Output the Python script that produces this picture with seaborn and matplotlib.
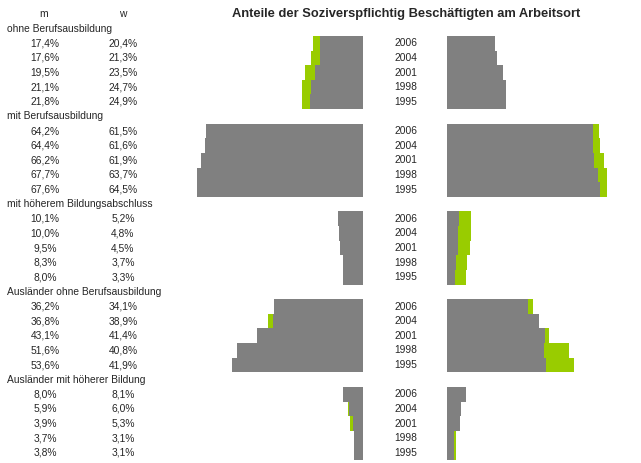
import matplotlib
matplotlib.use("Agg")
import matplotlib.pyplot as plt
import seaborn as sns
import pandas as pd

# ---------------- data ----------------
groups = ["ohne Berufsausbildung", "mit Berufsausbildung",
          "mit höherem Bildungsabschluss", "Ausländer ohne Berufsausbildung",
          "Ausländer mit höherer Bildung"]
years = ["2006", "2004", "2001", "1998", "1995"]

m_ohne = [17.4, 17.6, 19.5, 21.1, 21.8]
w_ohne = [20.4, 21.3, 23.5, 24.7, 24.9]
m_mit = [64.2, 64.4, 66.2, 67.7, 67.6]
w_mit = [61.5, 61.6, 61.9, 63.7, 64.5]
m_hoch = [10.1, 10.0, 9.5, 8.3, 8.0]
w_hoch = [5.2, 4.8, 4.5, 3.7, 3.3]
m_ausl_ohne = [36.2, 36.8, 43.1, 51.6, 53.6]
w_ausl_ohne = [34.1, 38.9, 41.4, 40.8, 41.9]
m_ausl_hoch = [8.0, 5.9, 3.9, 3.7, 3.8]
w_ausl_hoch = [8.1, 6.0, 5.3, 3.1, 3.1]

m_all = [m_ohne, m_mit, m_hoch, m_ausl_ohne, m_ausl_hoch]
w_all = [w_ohne, w_mit, w_hoch, w_ausl_ohne, w_ausl_hoch]

title = "Anteile der Soziverspflichtig Beschäftigten am Arbeitsort"

rows = []
for gi, g in enumerate(groups):
    for k, y in enumerate(years):
        rows.append({"group": g, "year": y, "row": 2 + 6 * gi + k,
                     "m": m_all[gi][k], "w": w_all[gi][k]})
df = pd.DataFrame(rows)

# ---------------- style ----------------
sns.set_style("white")
plt.rcParams["font.family"] = ["Liberation Sans", "DejaVu Sans"]

GREY = "#808080"
GREEN = "#99CC00"
W, H = 641, 464
fig = plt.figure(figsize=(W / 100, H / 100), dpi=100)

row_h = 14.625
row0 = 15.05
ylim = ((H - row0) / row_h, -row0 / row_h)
base_off = 2.0 / row_h  # baseline offset below row centre

def fx(px):
    return px / W

# left bars (m in grey, w behind in green)
zero_l, scale_l = 363, 2.45
left_px = 150
axL = fig.add_axes([fx(left_px), 0, fx(zero_l - left_px), 1])
sns.barplot(data=df, x="w", y="row", orient="h", native_scale=True,
            color=GREEN, saturation=1, width=1, linewidth=0,
            errorbar=None, ax=axL)
sns.barplot(data=df, x="m", y="row", orient="h", native_scale=True,
            color=GREY, saturation=1, width=1, linewidth=0,
            errorbar=None, ax=axL)
axL.set_xlim((zero_l - left_px) / scale_l, 0)
axL.set_ylim(*ylim)
axL.axis("off")

# right bars (w in grey, m behind in green)
zero_r, scale_r = 447, 2.37
axR = fig.add_axes([fx(zero_r), 0, fx(W - zero_r), 1])
sns.barplot(data=df, x="m", y="row", orient="h", native_scale=True,
            color=GREEN, saturation=1, width=1, linewidth=0,
            errorbar=None, ax=axR)
sns.barplot(data=df, x="w", y="row", orient="h", native_scale=True,
            color=GREY, saturation=1, width=1, linewidth=0,
            errorbar=None, ax=axR)
axR.set_xlim(0, (W - zero_r) / scale_r)
axR.set_ylim(*ylim)
axR.axis("off")

# left text columns (clipped at x=161 px)
clip_px = 161
axT = fig.add_axes([0, 0, fx(clip_px), 1])
axT.set_xlim(0, clip_px)
axT.set_ylim(*ylim)
axT.axis("off")
fs = 7.4
fmt = lambda v: f"{v:.1f}".replace(".", ",") + "%"
axT.text(44, 0 + base_off, "m", ha="center", va="baseline", fontsize=fs)
axT.text(123, 0 + base_off, "w", ha="center", va="baseline", fontsize=fs)
for gi, g in enumerate(groups):
    axT.text(7, 1 + 6 * gi + base_off, g, ha="left", va="baseline",
             fontsize=fs, clip_on=True)
for _, r in df.iterrows():
    axT.text(45, r["row"] + base_off, fmt(r["m"]), ha="center",
             va="baseline", fontsize=fs)
    axT.text(123, r["row"] + base_off, fmt(r["w"]), ha="center",
             va="baseline", fontsize=fs)

# year labels and title
axY = fig.add_axes([0, 0, 1, 1])
axY.set_xlim(0, W)
axY.set_ylim(*ylim)
axY.axis("off")
for _, r in df.iterrows():
    axY.text(406, r["row"] + base_off, r["year"], ha="center",
             va="baseline", fontsize=fs)
axY.text(406.5, (16.7 - row0) / row_h, title, ha="center", va="baseline",
         fontsize=9.3, fontweight="bold")

fig.savefig("out.png", dpi=100)
